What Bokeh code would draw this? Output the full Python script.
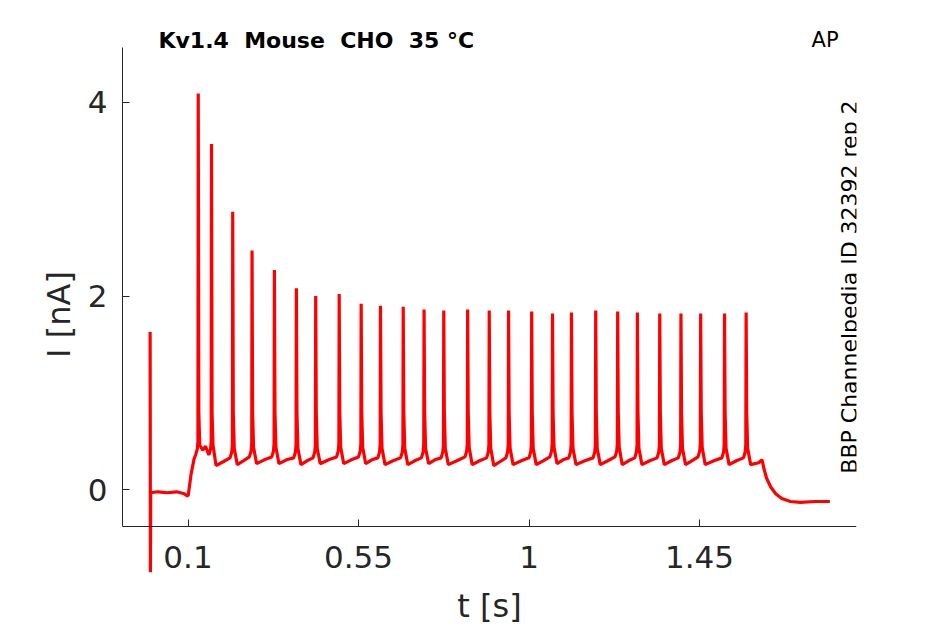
import math
from bokeh.plotting import figure
from bokeh.models import Range1d, FixedTicker, CustomJSTickFormatter, Label
from bokeh.embed import file_html
from bokeh.resources import INLINE

# ---- data ----
x_ticks = [0.1, 0.55, 1.0, 1.45]
y_ticks = [0, 2, 4]

# holding / onset part of the trace
pre_t = [0.0000, 0.0008, 0.0016, 0.020, 0.045, 0.070, 0.090, 0.097, 0.1005, 0.108, 0.116]
pre_i = [1.63, -0.85, -0.03, -0.02, -0.03, -0.02, -0.04, -0.06, -0.06, 0.16, 0.32]

# action-potential evoked spikes
spike_t = [0.127, 0.162, 0.218, 0.269, 0.328, 0.386, 0.437, 0.499, 0.557, 0.608,
           0.668, 0.723, 0.775, 0.838, 0.895, 0.946, 1.007, 1.062, 1.112, 1.176,
           1.234, 1.286, 1.345, 1.401, 1.453, 1.516, 1.573]
spike_peak = [4.09, 3.57, 2.87, 2.47, 2.27, 2.08, 2.00, 2.02, 1.92, 1.90,
              1.89, 1.86, 1.85, 1.86, 1.85, 1.85, 1.84, 1.82, 1.83, 1.85,
              1.84, 1.83, 1.82, 1.82, 1.82, 1.82, 1.83]
spike_base = [0.42, 0.42, 0.39, 0.40, 0.40, 0.39, 0.39, 0.40, 0.40, 0.39,
              0.39, 0.39, 0.39, 0.40, 0.39, 0.39, 0.39, 0.40, 0.39, 0.39,
              0.40, 0.39, 0.39, 0.39, 0.40, 0.39, 0.39]
spike_trough = [0.41, 0.25, 0.26, 0.27, 0.27, 0.26, 0.27, 0.27, 0.27, 0.26,
                0.26, 0.27, 0.26, 0.26, 0.25, 0.26, 0.26, 0.27, 0.26, 0.26,
                0.26, 0.26, 0.26, 0.26, 0.26, 0.26, 0.26]

# end of step and return to holding
tail_t = [1.585, 1.606, 1.615, 1.620, 1.627, 1.638, 1.651, 1.667, 1.690, 1.716, 1.756, 1.794]
tail_i = [0.26, 0.28, 0.31, 0.22, 0.12, 0.03, -0.04, -0.09, -0.12, -0.13, -0.12, -0.12]

# ---- build polyline ----
tt = list(pre_t)
ii = list(pre_i)
n = len(spike_t)
for k in range(n):
    ts, pk, hb, tr = spike_t[k], spike_peak[k], spike_base[k], spike_trough[k]
    tt += [ts - 0.007, ts - 0.0025, ts - 0.0008, ts, ts + 0.0015, ts + 0.004, ts + 0.012]
    ii += [hb - 0.06, hb, hb + 0.08, pk, 0.8, hb + 0.04, tr]
    if k < n - 1:
        tt.append(ts + 0.55 * (spike_t[k + 1] - ts))
        ii.append(tr + 0.04)
tt += tail_t
ii += tail_i

x_start, x_end = -0.0729, 1.8643
y_axis_at, y_axis_top = -0.379, 4.565   # visible extent of the axes
y_start, y_end = -1.3896, 5.0088        # frame spans (almost) the whole page

DARK = "#262626"
p = figure(width=945, height=624, output_backend="svg", toolbar_location=None,
           x_range=Range1d(x_start, x_end), y_range=Range1d(y_start, y_end),
           min_border_left=122, min_border_right=89, min_border_top=4, min_border_bottom=0)
p.outline_line_color = None
p.background_fill_color = "white"
p.border_fill_color = "white"
p.xgrid.visible = False
p.ygrid.visible = False

p.line(tt, ii, line_color="#ff0000", line_width=3.2)

for ax in (p.xaxis[0], p.yaxis[0]):
    ax.axis_line_color = DARK
    ax.axis_line_width = 1
    ax.major_tick_line_color = DARK
    ax.major_tick_in = 7
    ax.major_tick_out = 0
    ax.minor_tick_line_color = None
    ax.major_label_text_font = "DejaVu Sans"
    ax.major_label_text_font_size = "31px"
    ax.major_label_text_color = DARK
    ax.axis_label_text_font = "DejaVu Sans"
    ax.axis_label_text_font_size = "32px"
    ax.axis_label_text_font_style = "normal"
    ax.axis_label_text_color = DARK

p.xaxis.fixed_location = y_axis_at
p.xaxis.bounds = (x_start, x_end)
p.yaxis.bounds = (y_axis_at, y_axis_top)
p.xaxis.ticker = FixedTicker(ticks=x_ticks)
p.xaxis.formatter = CustomJSTickFormatter(code="return tick.toString();")
p.yaxis.ticker = FixedTicker(ticks=y_ticks)
p.yaxis.axis_label = "I [nA]"
p.xaxis.major_label_standoff = 19
p.yaxis.major_label_standoff = 15
p.yaxis.axis_label_standoff = 7

NB = "\u00a0"
p.add_layout(Label(x=(x_start + x_end) / 2, y=-1.194, text="t [s]", text_font_size="32px",
                   text_align="center", text_font="DejaVu Sans", text_color=DARK,
                   text_baseline="middle"))
p.add_layout(Label(x=0.022, y=4.640, text=f"Kv1.4{NB} Mouse{NB} CHO{NB} 35 °C",
                   text_font="DejaVu Sans", text_color="black", text_baseline="middle",
                   text_font_style="bold", text_font_size="22px", text_align="left"))
p.add_layout(Label(x=1.7456, y=4.640, text="AP", text_font_size="21px",
                   text_font="DejaVu Sans", text_color="black", text_baseline="middle",
                   text_align="left"))
p.add_layout(Label(x=1.846, y=(y_axis_at + y_axis_top) / 2, text="BBP Channelpedia ID 32392 rep 2",
                   text_font="DejaVu Sans", text_font_size="22px", text_color="black",
                   angle=math.pi / 2, text_align="center", text_baseline="middle"))

open("out.html", "w").write(file_html(p, INLINE))
